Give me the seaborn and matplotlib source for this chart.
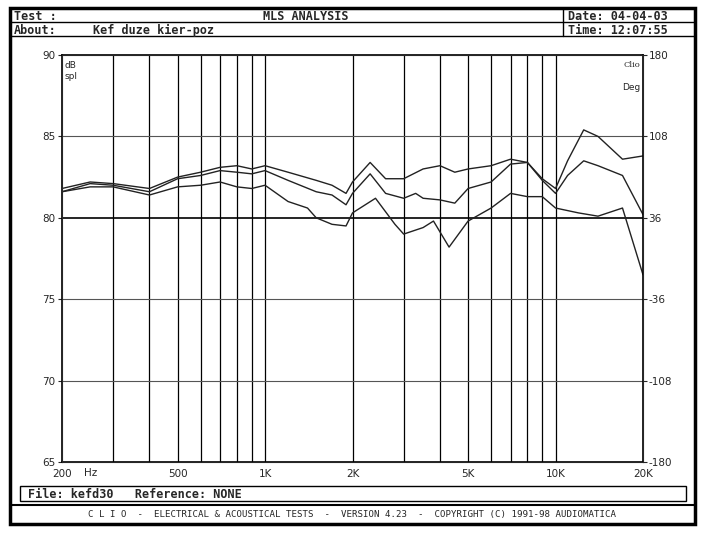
import matplotlib
matplotlib.use("Agg")
import matplotlib.pyplot as plt
import seaborn as sns
import pandas as pd
from matplotlib.patches import Rectangle

freq_a = [200,250,300,400,500,600,700,800,900,1000,1200,1500,1700,1900,2000,2300,2600,3000,3500,4000,4500,5000,6000,7000,8000,9000,10000,11000,12500,14000,17000,20000]
spl_a = [81.8,82.2,82.1,81.8,82.5,82.8,83.1,83.2,83.0,83.2,82.8,82.3,82.0,81.5,82.2,83.4,82.4,82.4,83.0,83.2,82.8,83.0,83.2,83.6,83.4,82.4,81.8,83.5,85.4,85.0,83.6,83.8]
freq_b = [200,250,300,400,500,600,700,800,900,1000,1200,1500,1700,1900,2000,2300,2600,3000,3300,3500,4000,4500,5000,6000,7000,8000,9000,10000,11000,12500,14000,17000,20000]
spl_b = [81.6,82.1,82.0,81.6,82.4,82.6,82.9,82.8,82.7,82.9,82.3,81.6,81.4,80.8,81.5,82.7,81.5,81.2,81.5,81.2,81.1,80.9,81.8,82.2,83.3,83.4,82.3,81.5,82.6,83.5,83.2,82.6,80.2]
freq_c = [200,250,300,400,500,600,700,800,900,1000,1200,1400,1500,1700,1900,2000,2400,2800,3000,3500,3800,4300,5000,6000,7000,8000,9000,10000,12000,14000,17000,20000]
spl_c = [81.6,81.9,81.9,81.4,81.9,82.0,82.2,81.9,81.8,82.0,81.0,80.6,80.0,79.6,79.5,80.3,81.2,79.6,79.0,79.4,79.8,78.2,79.8,80.6,81.5,81.3,81.3,80.6,80.3,80.1,80.6,76.5]
xgrid = [300,400,500,600,700,800,900,1000,2000,3000,4000,5000,6000,7000,8000,9000,10000]
xticks = [200,500,1000,2000,5000,10000,20000]
xticklabels = ["200","500","1K","2K","5K","10K","20K"]
yticks = [65,70,75,80,85,90]
phase_labels = ["-180","-108","-36","36","108","180"]

df = pd.concat([
    pd.DataFrame({"f": freq_a, "spl": spl_a, "s": "a"}),
    pd.DataFrame({"f": freq_b, "spl": spl_b, "s": "b"}),
    pd.DataFrame({"f": freq_c, "spl": spl_c, "s": "c"}),
])

sns.set_style("white")
plt.rcParams['font.family'] = ['DejaVu Sans Mono', 'DejaVu Sans']
fig = plt.figure(figsize=(7.05, 5.33), dpi=100)
W, H = 705, 533
def fx(x): return x / W
def fy(y): return 1 - y / H

ax = fig.add_axes([fx(62), fy(462), fx(643) - fx(62), (462 - 55) / H])
sns.lineplot(data=df, x="f", y="spl", units="s", estimator=None, color="#222222",
             lw=1.0, ax=ax, legend=False)
ax.set_xscale("log")
ax.set_xlim(200, 20000)
ax.set_ylim(65, 90)
for g in xgrid:
    ax.axvline(g, color="black", lw=0.9, zorder=0)
for yv in [70, 75, 85]:
    ax.axhline(yv, color="#555555", lw=0.8, zorder=0)
ax.axhline(80, color="black", lw=1.2, zorder=0)
ax.set_xticks(xticks)
ax.set_xticklabels(xticklabels, fontsize=7.5, family="DejaVu Sans")
ax.minorticks_off()
ax.set_yticks(yticks)
ax.set_yticklabels([str(v) for v in yticks], fontsize=7.5, family="DejaVu Sans")
ax.tick_params(length=3, pad=2)
ax.set_xlabel(""); ax.set_ylabel("")
for sp in ax.spines.values():
    sp.set_color("black"); sp.set_linewidth(1.2)
ax2 = ax.twinx()
ax2.set_ylim(65, 90)
ax2.set_yticks(yticks)
ax2.set_yticklabels(phase_labels, fontsize=7.5, family="DejaVu Sans")
ax2.tick_params(length=3, pad=1)
ax.text(0.005, 0.985, "dB\nspl", transform=ax.transAxes, fontsize=6.5, va="top", ha="left", family="DejaVu Sans")
ax2.text(0.995, 0.985, "Clio", transform=ax.transAxes, fontsize=6, va="top", ha="right", family="DejaVu Serif")
ax2.text(0.995, 0.93, "Deg", transform=ax.transAxes, fontsize=6.5, va="top", ha="right", family="DejaVu Sans")
fig.text(fx(84), fy(468), "Hz", fontsize=7.5, va="top", family="DejaVu Sans")

def box(x0, y0, x1, y1, lw=1.0):
    fig.add_artist(Rectangle((fx(x0), fy(y1)), fx(x1) - fx(x0), (y1 - y0) / H,
                             fill=False, lw=lw, ec="black", transform=fig.transFigure))
def line(x0, y0, x1, y1, lw=1.0):
    fig.add_artist(plt.Line2D([fx(x0), fx(x1)], [fy(y0), fy(y1)], lw=lw, color="black", transform=fig.transFigure))

box(10, 8, 695, 524, lw=2.5)
line(10, 22, 695, 22)
line(10, 36, 695, 36)
line(563, 8, 563, 36)
line(10, 505, 695, 505, lw=1.5)
box(20, 486, 686, 501)
tk = dict(fontsize=8.5, fontweight="bold", va="center", transform=fig.transFigure)
fig.text(fx(14), fy(16), "Test :", **tk)
fig.text(fx(306), fy(16), "MLS ANALYSIS", ha="center", **tk)
fig.text(fx(14), fy(30), "About:", **tk)
fig.text(fx(93), fy(30), "Kef duze kier-poz", **tk)
fig.text(fx(568), fy(16), "Date: 04-04-03", **tk)
fig.text(fx(568), fy(30), "Time: 12:07:55", **tk)
fig.text(fx(28), fy(494), "File: kefd30   Reference: NONE", **tk)
fig.text(fx(352), fy(515), "C L I O  -  ELECTRICAL & ACOUSTICAL TESTS  -  VERSION 4.23  -  COPYRIGHT (C) 1991-98 AUDIOMATICA",
         ha="center", fontsize=6.6, va="center", transform=fig.transFigure)
fig.savefig("out.png", dpi=100)
